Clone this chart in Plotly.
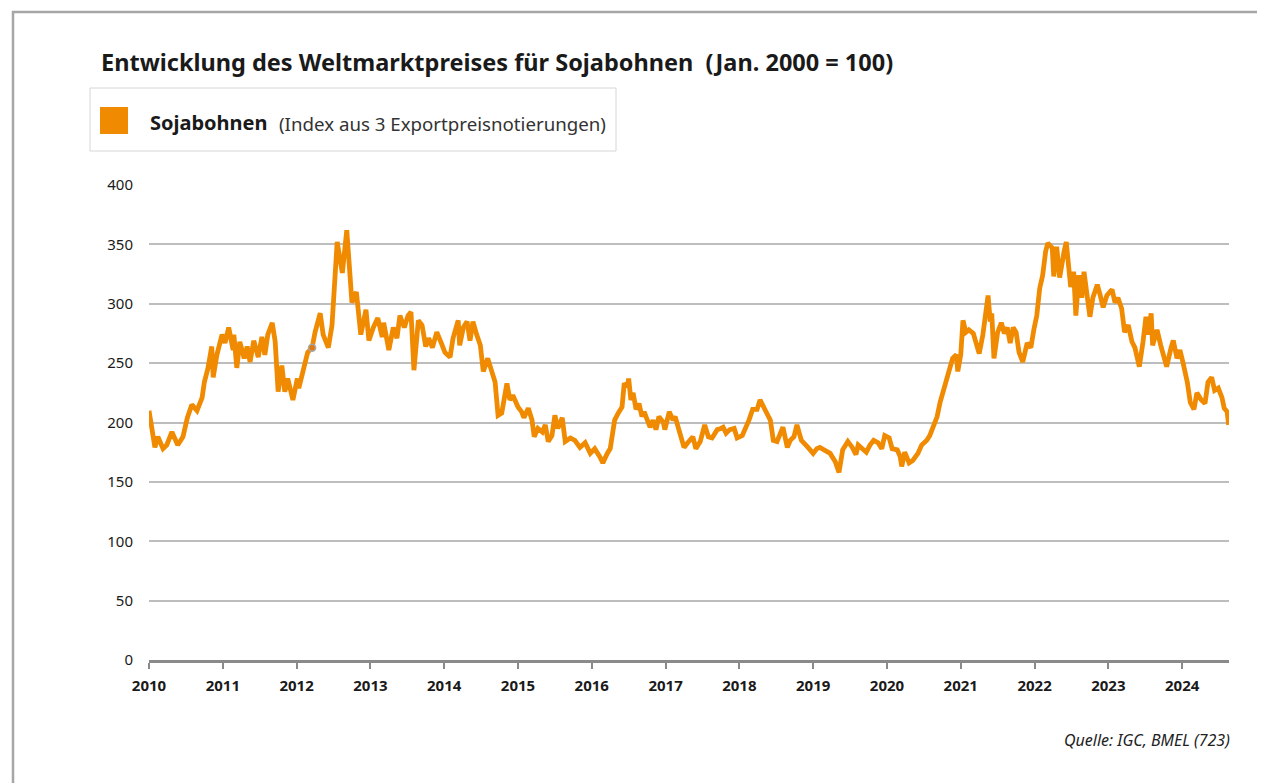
import plotly.graph_objects as go

# Decimal year positions and index values (Jan. 2000 = 100)
years = [
    2010.00, 2010.08, 2010.12, 2010.19, 2010.24, 2010.31, 2010.39, 2010.46, 2010.52, 2010.58,
    2010.65, 2010.72, 2010.75, 2010.80, 2010.85, 2010.87, 2010.92, 2010.99, 2011.03, 2011.08,
    2011.14, 2011.15, 2011.19, 2011.23, 2011.29, 2011.33, 2011.37, 2011.42, 2011.48, 2011.53,
    2011.57, 2011.61, 2011.67, 2011.71, 2011.75, 2011.80, 2011.84, 2011.88, 2011.95, 2012.01,
    2012.03, 2012.09, 2012.15, 2012.21, 2012.25, 2012.32, 2012.36, 2012.43, 2012.48, 2012.55,
    2012.62, 2012.68, 2012.75, 2012.81, 2012.87, 2012.94, 2012.98, 2013.04, 2013.10, 2013.16,
    2013.18, 2013.25, 2013.31, 2013.36, 2013.40, 2013.46, 2013.51, 2013.55, 2013.59, 2013.65,
    2013.70, 2013.75, 2013.79, 2013.84, 2013.90, 2013.96, 2014.01, 2014.08, 2014.12, 2014.19,
    2014.21, 2014.26, 2014.31, 2014.35, 2014.39, 2014.44, 2014.49, 2014.53, 2014.59, 2014.63,
    2014.69, 2014.73, 2014.78, 2014.85, 2014.89, 2014.93, 2015.00, 2015.05, 2015.08, 2015.14,
    2015.19, 2015.22, 2015.27, 2015.33, 2015.37, 2015.41, 2015.46, 2015.50, 2015.54, 2015.60,
    2015.64, 2015.71, 2015.77, 2015.84, 2015.91, 2015.98, 2016.04, 2016.11, 2016.15, 2016.21,
    2016.25, 2016.29, 2016.31, 2016.36, 2016.41, 2016.44, 2016.48, 2016.50, 2016.53, 2016.56,
    2016.60, 2016.64, 2016.68, 2016.71, 2016.75, 2016.79, 2016.83, 2016.87, 2016.91, 2016.97,
    2016.99, 2017.05, 2017.10, 2017.13, 2017.18, 2017.25, 2017.30, 2017.37, 2017.41, 2017.47,
    2017.53, 2017.58, 2017.63, 2017.70, 2017.75, 2017.78, 2017.82, 2017.87, 2017.93, 2017.97,
    2018.04, 2018.08, 2018.13, 2018.18, 2018.24, 2018.28, 2018.32, 2018.37, 2018.42, 2018.46,
    2018.51, 2018.55, 2018.59, 2018.65, 2018.69, 2018.74, 2018.78, 2018.84, 2018.89, 2018.93,
    2019.00, 2019.05, 2019.09, 2019.16, 2019.23, 2019.30, 2019.35, 2019.40, 2019.47, 2019.53,
    2019.58, 2019.61, 2019.66, 2019.72, 2019.77, 2019.82, 2019.88, 2019.93, 2019.97, 2020.03,
    2020.07, 2020.14, 2020.18, 2020.20, 2020.24, 2020.30, 2020.35, 2020.42, 2020.47, 2020.54,
    2020.58, 2020.62, 2020.68, 2020.72, 2020.76, 2020.81, 2020.85, 2020.89, 2020.94, 2020.96,
    2021.00, 2021.03, 2021.07, 2021.11, 2021.17, 2021.22, 2021.25, 2021.30, 2021.33, 2021.37,
    2021.40, 2021.42, 2021.45, 2021.50, 2021.55, 2021.59, 2021.63, 2021.67, 2021.71, 2021.75,
    2021.79, 2021.84, 2021.90, 2021.95, 2021.99, 2022.03, 2022.07, 2022.11, 2022.15, 2022.18,
    2022.24, 2022.26, 2022.30, 2022.34, 2022.40, 2022.43, 2022.45, 2022.49, 2022.53, 2022.56,
    2022.60, 2022.64, 2022.67, 2022.71, 2022.75, 2022.79, 2022.85, 2022.89, 2022.93, 2022.98,
    2023.05, 2023.09, 2023.13, 2023.18, 2023.22, 2023.27, 2023.32, 2023.36, 2023.42, 2023.47,
    2023.51, 2023.54, 2023.58, 2023.60, 2023.66, 2023.71, 2023.74, 2023.79, 2023.85, 2023.88,
    2023.93, 2023.97, 2024.01, 2024.07, 2024.11, 2024.16, 2024.20, 2024.26, 2024.31, 2024.35,
    2024.40, 2024.44, 2024.49, 2024.54, 2024.57, 2024.61, 2024.63,
]

soja_index = [
    210, 179, 188, 178, 181, 192, 181, 188, 204, 215,
    210, 221, 234, 246, 264, 238, 257, 274, 267, 280,
    261, 274, 246, 268, 254, 264, 251, 269, 255, 272,
    257, 274, 284, 268, 226, 248, 226, 237, 219, 237,
    229, 243, 259, 263, 276, 292, 274, 263, 282, 352,
    326, 362, 301, 310, 274, 295, 269, 280, 288, 272,
    284, 261, 280, 271, 290, 280, 290, 293, 244, 286,
    282, 264, 271, 263, 276, 267, 259, 255, 271, 286,
    265, 280, 285, 269, 285, 274, 265, 243, 254, 246,
    234, 206, 208, 233, 219, 223, 213, 209, 204, 212,
    202, 188, 195, 192, 198, 184, 189, 206, 195, 204,
    184, 187, 185, 179, 183, 174, 178, 171, 166, 174,
    178, 194, 202, 208, 213, 233, 230, 237, 219, 225,
    211, 216, 205, 209, 202, 196, 202, 194, 205, 200,
    194, 209, 202, 205, 194, 179, 183, 188, 178, 184,
    198, 188, 187, 194, 195, 196, 191, 194, 195, 187,
    189, 194, 202, 211, 211, 219, 213, 208, 202, 185,
    184, 189, 196, 179, 185, 188, 198, 185, 181, 179,
    174, 178, 179, 177, 174, 167, 158, 177, 184, 179,
    173, 181, 178, 175, 181, 185, 183, 178, 189, 187,
    178, 177, 171, 163, 175, 166, 168, 174, 181, 185,
    189, 195, 205, 217, 226, 236, 243, 254, 257, 243,
    257, 286, 276, 278, 275, 265, 258, 274, 290, 307,
    285, 292, 254, 276, 284, 275, 280, 267, 280, 276,
    259, 251, 267, 263, 278, 290, 313, 324, 344, 351,
    347, 323, 348, 322, 344, 352, 339, 314, 327, 290,
    324, 305, 327, 307, 289, 305, 316, 307, 297, 307,
    312, 301, 305, 296, 276, 282, 268, 263, 247, 268,
    289, 274, 292, 265, 278, 265, 259, 247, 263, 269,
    254, 261, 251, 234, 217, 211, 225, 219, 216, 234,
    238, 227, 229, 221, 212, 209, 198,
]

tick_years = list(range(2010, 2025))
y_ticks = [0, 50, 100, 150, 200, 250, 300, 350, 400]

title_text = "Entwicklung des Weltmarktpreises für Sojabohnen  (Jan. 2000 = 100)"
legend_name = "Sojabohnen"
legend_note = "(Index aus 3 Exportpreisnotierungen)"
source_text = "Quelle: IGC, BMEL (723)"
marked_year = 2012.21

ORANGE = "#F08A00"
FONT = "Noto Sans"

OFF = 8  # page body margin
W, H = 1257, 775
L, R, T, B = 141, 36, 177, 123
PW, PH = W - L - R, H - T - B


def px(x):
    return (x - OFF - L) / PW


def py(y):
    return (H - B - (y - OFF)) / PH


fig = go.Figure()
fig.add_trace(go.Scatter(
    x=years, y=soja_index, mode="lines", name=legend_name,
    line=dict(color=ORANGE, width=4.8), showlegend=False,
    hoverinfo="x+y",
))
mi = years.index(marked_year)
fig.add_trace(go.Scatter(
    x=[years[mi]], y=[soja_index[mi]], mode="markers", showlegend=False,
    marker=dict(color="#e07a10", size=7, line=dict(color="#a8a8a8", width=1.5)),
    hoverinfo="skip",
))

shapes = [
    # outer frame
    dict(type="rect", xref="paper", yref="paper",
         x0=px(13), x1=px(1300), y0=py(820), y1=py(12),
         line=dict(color="#a6a6a6", width=2.5), fillcolor="rgba(0,0,0,0)", layer="below"),
    # legend box
    dict(type="rect", xref="paper", yref="paper",
         x0=px(90), x1=px(616), y0=py(151), y1=py(88),
         line=dict(color="#d6d6d6", width=1), fillcolor="white"),
    # legend swatch
    dict(type="rect", xref="paper", yref="paper",
         x0=px(100), x1=px(128), y0=py(134), y1=py(107),
         line=dict(width=0), fillcolor=ORANGE),
]

annotations = [
    dict(text=f"<b>{title_text}</b>", xref="paper", yref="paper",
         x=px(99), y=py(62), xanchor="left", yanchor="middle", showarrow=False,
         font=dict(family=FONT, size=23.5, color="#1a1a1a")),
    dict(text=f"<b>{legend_name}</b>", xref="paper", yref="paper",
         x=px(148), y=py(122), xanchor="left", yanchor="middle", showarrow=False,
         font=dict(family=FONT, size=20, color="#1a1a1a")),
    dict(text=legend_note, xref="paper", yref="paper",
         x=px(277), y=py(124), xanchor="left", yanchor="middle", showarrow=False,
         font=dict(family=FONT, size=18.7, color="#333333")),
    dict(text=f"<i>{source_text}</i>", xref="paper", yref="paper",
         x=px(1232), y=py(740), xanchor="right", yanchor="middle", showarrow=False,
         font=dict(family=FONT, size=16, color="#222222")),
]

fig.update_layout(
    width=W, height=H,
    margin=dict(l=L, r=R, t=T, b=B, pad=0),
    paper_bgcolor="white", plot_bgcolor="white",
    shapes=shapes, annotations=annotations,
    showlegend=False,
    xaxis=dict(
        range=[2010, years[-1] + 0.005], tickvals=tick_years,
        ticktext=[f"<b>{y}</b>" for y in tick_years],
        showgrid=False, zeroline=False,
        showline=True, linecolor="#8a8a8a", linewidth=3,
        ticks="outside", ticklen=6, tickwidth=2, tickcolor="#8a8a8a",
        tickfont=dict(family=FONT, size=15, color="#1a1a1a"),
        ticklabelstandoff=4,
    ),
    yaxis=dict(
        range=[0, 400], tickvals=y_ticks,
        showgrid=True, gridcolor="#bdbdbd", gridwidth=2,
        zeroline=False, showline=False, ticks="",
        tickfont=dict(family=FONT, size=15, color="#1a1a1a"),
        ticklabelstandoff=15,
    ),
)

fig.write_html("out.html")
